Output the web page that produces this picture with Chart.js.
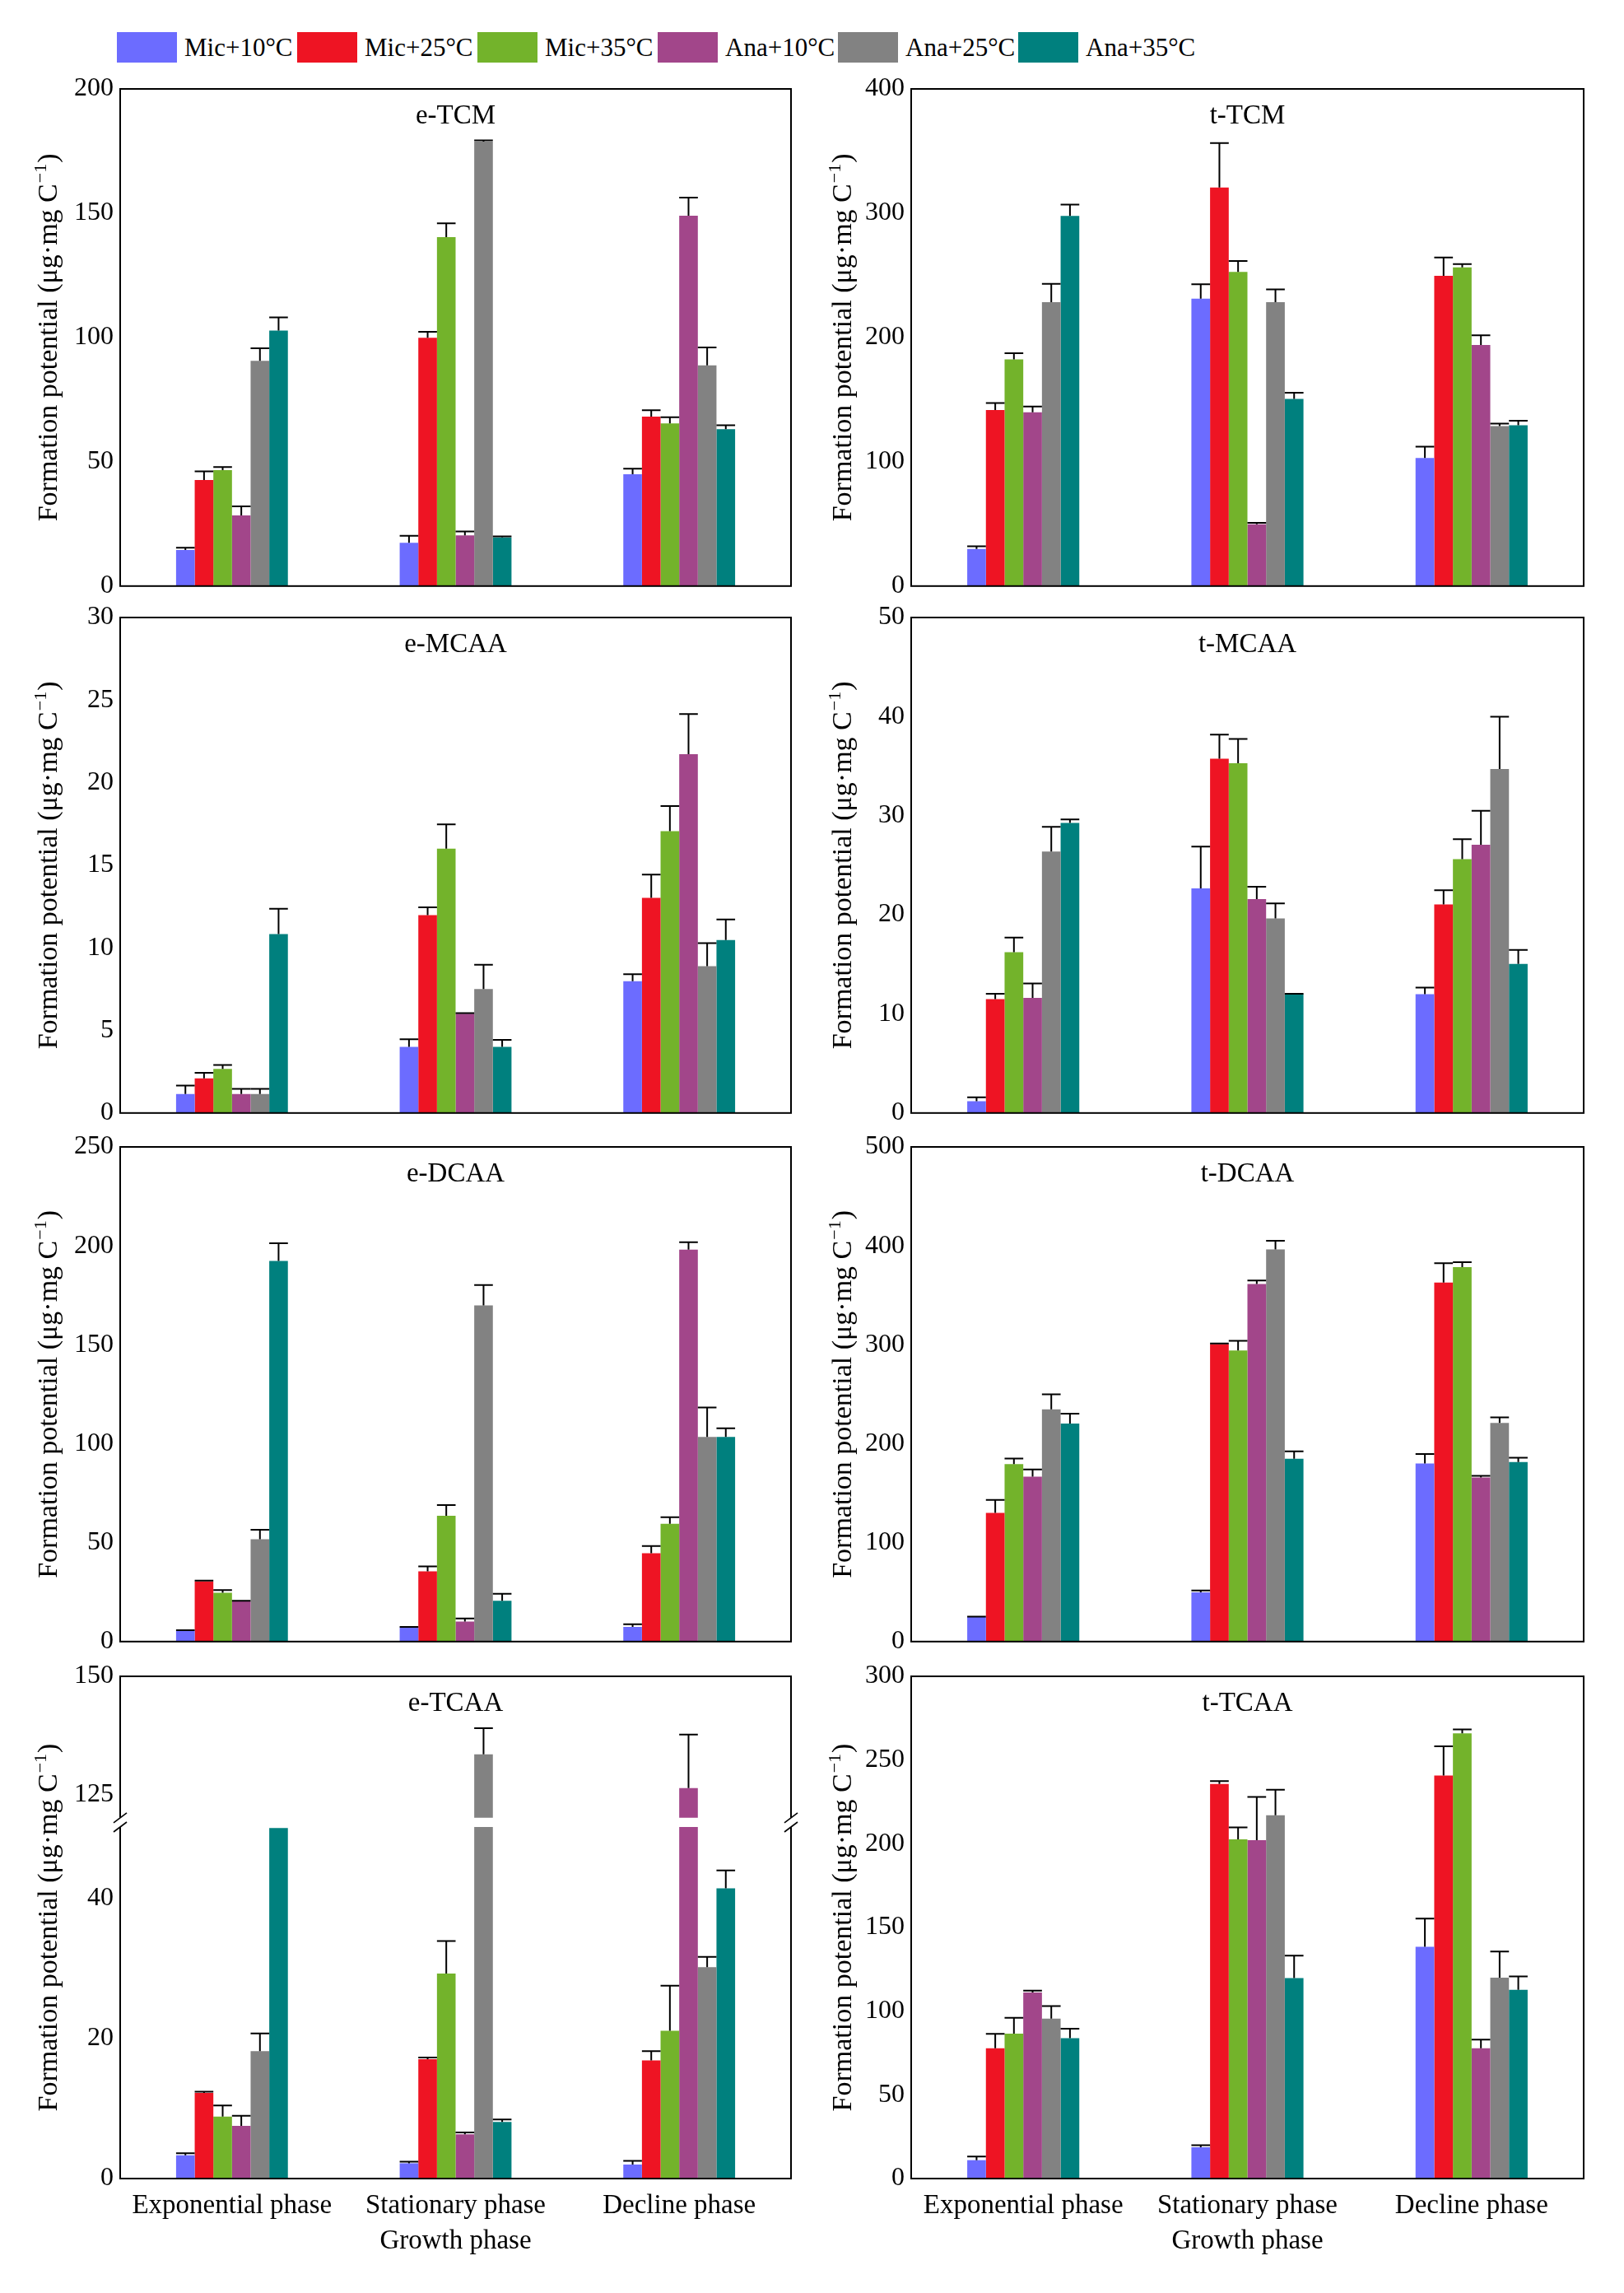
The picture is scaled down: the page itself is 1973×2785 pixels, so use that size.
<!DOCTYPE html>
<html>
<head>
<meta charset="utf-8">
<script src="https://cdn.jsdelivr.net/npm/chart.js@4.4.1/dist/chart.umd.min.js"></script>
<style>
  body { margin: 0; background: #fff; }
  #page { position: relative; width: 1973px; height: 2785px; background: #fff; font-family: 'Liberation Serif', 'Times New Roman', serif; }
  canvas { position: absolute; }
  .leg { position: absolute; top: 39px; height: 37px; display: flex; align-items: center; font-size: 31px; color: #000; white-space: nowrap; }
  .leg span.box { display: inline-block; width: 73px; height: 37px; margin-right: 9px; }
</style>
</head>
<body>
<div id="page"></div>
<script>
// categories and series
const phases = ['Exponential phase', 'Stationary phase', 'Decline phase'];
const seriesNames = ['Mic+10°C', 'Mic+25°C', 'Mic+35°C', 'Ana+10°C', 'Ana+25°C', 'Ana+35°C'];
const seriesColors = ['#6c6cff', '#ee1423', '#73b32b', '#a2468a', '#828282', '#00807e'];

// rows = series, columns = phases ; *Err = upper error bar length
const eTCM = [[14.5, 17.4, 45.0], [42.7, 99.9, 68.2], [46.6, 140.4, 65.4], [28.4, 20.4, 149.0], [90.6, 178.8, 88.8], [102.8, 19.6, 63.1]];
const eTCMErr = [[0.9, 2.8, 2.2], [3.4, 2.4, 2.5], [1.3, 5.5, 2.5], [3.7, 1.6, 7.3], [5.1, 0.5, 7.2], [5.3, 0.4, 1.6]];

const tTCM = [[29.8, 231.2, 103.0], [141.7, 320.7, 249.7], [182.3, 252.8, 256.4], [139.8, 49.7, 193.9], [228.5, 228.5, 128.7], [297.8, 150.6, 129.3]];
const tTCMErr = [[2.2, 11.6, 9.2], [5.5, 35.7, 14.7], [5.0, 8.8, 2.7], [4.7, 1.1, 7.8], [14.6, 10.2, 2.0], [9.1, 4.9, 3.8]];

const eMCAA = [[1.15, 4.0, 7.98], [2.1, 11.98, 13.02], [2.67, 16.01, 17.06], [1.15, 6.01, 21.72], [1.15, 7.51, 8.89], [10.83, 4.0, 10.47]];
const eMCAAErr = [[0.51, 0.47, 0.42], [0.33, 0.47, 1.41], [0.24, 1.46, 1.52], [0.31, 0.04, 2.43], [0.31, 1.46, 1.39], [1.54, 0.43, 1.25]];

const tMCAA = [[1.18, 22.67, 11.98], [11.5, 35.76, 21.05], [16.23, 35.29, 25.61], [11.61, 21.59, 27.06], [26.38, 19.64, 34.72], [29.28, 11.98, 15.05]];
const tMCAAErr = [[0.41, 4.22, 0.67], [0.54, 2.43, 1.42], [1.48, 2.46, 2.02], [1.45, 1.25, 3.44], [2.5, 1.51, 5.26], [0.34, 0.06, 1.41]];

const eDCAA = [[5.4, 7.1, 7.4], [30.4, 35.5, 44.6], [24.7, 63.6, 59.5], [20.3, 10.1, 198.1], [51.7, 169.9, 103.4], [192.4, 20.6, 103.4]];
const eDCAAErr = [[0.3, 0.3, 1.4], [0.4, 2.5, 3.7], [1.3, 5.4, 3.4], [0.3, 1.6, 3.7], [4.8, 10.3, 14.9], [8.9, 3.6, 4.4]];

const tDCAA = [[24.7, 49.7, 180.1], [130.1, 300.7, 362.8], [179.4, 294.3, 378.4], [166.6, 361.5, 165.9], [234.8, 396.3, 220.9], [220.3, 184.8, 181.4]];
const tDCAAErr = [[0.6, 2.0, 9.4], [13.1, 0.7, 19.6], [5.7, 9.8, 5.0], [7.4, 3.4, 1.7], [15.2, 8.8, 5.8], [10.1, 7.4, 4.4]];

const eTCAA = [[3.32, 2.18, 2.0], [12.2, 17.02, 16.85], [8.83, 29.23, 21.09], [7.51, 6.3, 126.44], [18.17, 133.56, 30.14], [50.0, 8.08, 41.38]];
const eTCAAErr = [[0.29, 0.23, 0.52], [0.18, 0.23, 1.32], [1.6, 4.64, 6.41], [1.43, 0.29, 11.26], [2.52, 5.51, 1.49], [0, 0.34, 2.57]];
const eTCAATicks = [0, 20, 40, 125, 150];

const tTCAA = [[11.0, 18.7, 138.5], [77.8, 235.7, 240.7], [86.6, 202.6, 265.9], [111.1, 202.1, 77.8], [95.5, 217.0, 120.0], [83.8, 119.8, 112.8]];
const tTCAAErr = [[2.2, 1.2, 16.8], [8.6, 1.7, 17.5], [9.4, 7.2, 2.4], [1.2, 25.9, 5.2], [7.5, 15.3, 15.6], [5.7, 13.4, 7.9]];

// y title, drawn by hand so the exponent can be a real superscript
const yTitleMain = 'Formation potential (μg·mg C';
const yTitleSup = '−1';
const yTitleEnd = ')';
const FONT = "'Liberation Serif', 'Times New Roman', serif";

// broken axis for e-TCAA: 0–50 kept, 120–150 compressed above
function tcaaMap(v) {
    return v <= 50.2 ? v : 54.73 + (v - 125) * 0.676;
}
const identity = v => v;

// layout of the 4x2 grid
const rowTop = [107.5, 750, 1393, 2035.5];
const rowBottom = [718, 1359, 2001, 2645.5];
const cols = [
    { x: 0, w: 980, axisW: 146, padR: 19, titleX: 58 },
    { x: 980, w: 993, axisW: 127, padR: 49, titleX: 43 }
];

const panels = [
    { name: 'e-TCM', vals: eTCM, errs: eTCMErr, max: 200, step: 50, row: 0, col: 0 },
    { name: 't-TCM', vals: tTCM, errs: tTCMErr, max: 400, step: 100, row: 0, col: 1 },
    { name: 'e-MCAA', vals: eMCAA, errs: eMCAAErr, max: 30, step: 5, row: 1, col: 0 },
    { name: 't-MCAA', vals: tMCAA, errs: tMCAAErr, max: 50, step: 10, row: 1, col: 1 },
    { name: 'e-DCAA', vals: eDCAA, errs: eDCAAErr, max: 250, step: 50, row: 2, col: 0 },
    { name: 't-DCAA', vals: tDCAA, errs: tDCAAErr, max: 500, step: 100, row: 2, col: 1 },
    { name: 'e-TCAA', vals: eTCAA, errs: eTCAAErr, max: 150, row: 3, col: 0, broken: true },
    { name: 't-TCAA', vals: tTCAA, errs: tTCAAErr, max: 300, step: 50, row: 3, col: 1 }
];

// error bars, frame, axis break, panel name and y title
const decorPlugin = {
    id: 'decor',
    afterDraw(chart, args, opts) {
        const ctx = chart.ctx;
        const area = chart.chartArea;
        const y = chart.scales.y;
        const map = opts.map || identity;
        ctx.save();
        ctx.strokeStyle = '#000';
        ctx.lineWidth = 2;
        chart.data.datasets.forEach((ds, i) => {
            const meta = chart.getDatasetMeta(i);
            meta.data.forEach((bar, j) => {
                const e = ds.errors[j];
                if (!e) return;
                const top = y.getPixelForValue(map(ds.raw[j] + e));
                const half = bar.width / 2;
                ctx.beginPath();
                ctx.moveTo(bar.x, bar.y);
                ctx.lineTo(bar.x, top);
                ctx.moveTo(bar.x - half, top);
                ctx.lineTo(bar.x + half, top);
                ctx.stroke();
            });
        });
        ctx.strokeRect(area.left, area.top, area.right - area.left, area.bottom - area.top);
        if (opts.broken) {
            const yLo = y.getPixelForValue(50.14);
            const yHi = y.getPixelForValue(51.46);
            ctx.fillStyle = '#fff';
            ctx.fillRect(area.left - 12, yHi, area.right - area.left + 24, yLo - yHi);
            ctx.lineWidth = 1.6;
            [area.left, area.right].forEach(x => {
                [yLo, yHi].forEach(yy => {
                    ctx.beginPath();
                    ctx.moveTo(x - 8, yy + 6);
                    ctx.lineTo(x + 8, yy - 6);
                    ctx.stroke();
                });
            });
        }
        ctx.fillStyle = '#000';
        ctx.font = '33px ' + FONT;
        ctx.textAlign = 'center';
        ctx.textBaseline = 'middle';
        ctx.fillText(opts.name, (area.left + area.right) / 2, area.top + 33);

        // rotated y title with superscript
        const big = '34px ' + FONT;
        const small = '22px ' + FONT;
        ctx.font = big;
        const w1 = ctx.measureText(yTitleMain).width;
        const w3 = ctx.measureText(yTitleEnd).width;
        ctx.font = small;
        const w2 = ctx.measureText(yTitleSup).width + 2;
        const total = w1 + w2 + w3;
        ctx.translate(opts.titleX, (area.top + area.bottom) / 2);
        ctx.rotate(-Math.PI / 2);
        ctx.textAlign = 'left';
        ctx.textBaseline = 'alphabetic';
        let x0 = -total / 2;
        ctx.font = big;
        ctx.fillText(yTitleMain, x0, 11);
        ctx.font = small;
        ctx.fillText(yTitleSup, x0 + w1 + 1, -2);
        ctx.font = big;
        ctx.fillText(yTitleEnd, x0 + w1 + w2, 11);
        ctx.restore();
    }
};

Chart.defaults.font.family = FONT;
Chart.defaults.color = '#000';

const page = document.getElementById('page');

// legend
seriesNames.forEach((name, i) => {
    const d = document.createElement('div');
    d.className = 'leg';
    d.style.left = (142 + i * 219) + 'px';
    d.innerHTML = '<span class="box" style="background:' + seriesColors[i] + '"></span>' + name;
    page.appendChild(d);
});

panels.forEach(p => {
    const c = cols[p.col];
    const last = p.row === 3;
    const padTop = 30;
    const padBottom = last ? 10 : 20;
    const xH = last ? 100 : 0;
    const top = rowTop[p.row] - padTop;
    const height = rowBottom[p.row] - rowTop[p.row] + padTop + padBottom + xH;
    const map = p.broken ? tcaaMap : identity;

    const canvas = document.createElement('canvas');
    canvas.width = c.w;
    canvas.height = Math.round(height);
    canvas.style.left = c.x + 'px';
    canvas.style.top = top + 'px';
    canvas.style.width = c.w + 'px';
    canvas.style.height = Math.round(height) + 'px';
    page.appendChild(canvas);

    const yScale = {
        min: 0,
        max: map(p.max),
        grid: { display: false, drawTicks: false },
        border: { display: false },
        ticks: { font: { size: 32 }, color: '#000', padding: 8 },
        title: { display: false },
        afterFit(s) { s.width = c.axisW; }
    };
    if (p.broken) {
        yScale.afterBuildTicks = axis => {
            axis.ticks = eTCAATicks.map(v => ({ value: tcaaMap(v) }));
        };
        yScale.ticks.callback = (value, index) => eTCAATicks[index];
    } else {
        yScale.ticks.stepSize = p.step;
    }

    new Chart(canvas, {
        type: 'bar',
        data: {
            labels: phases,
            datasets: seriesNames.map((s, i) => ({
                label: s,
                data: p.vals[i].map(map),
                raw: p.vals[i],
                errors: p.errs[i],
                backgroundColor: seriesColors[i],
                borderWidth: 0,
                categoryPercentage: 0.5,
                barPercentage: 1.0
            }))
        },
        options: {
            responsive: false,
            animation: false,
            devicePixelRatio: 1,
            layout: { padding: { top: padTop, bottom: padBottom, left: 0, right: c.padR } },
            plugins: {
                legend: { display: false },
                tooltip: { enabled: false },
                decor: { name: p.name, broken: !!p.broken, map: map, titleX: c.titleX }
            },
            scales: {
                x: {
                    grid: { display: false, drawTicks: false },
                    border: { display: false },
                    ticks: { display: last, font: { size: 33 }, color: '#000', padding: 14, maxRotation: 0, autoSkip: false },
                    title: { display: last, text: 'Growth phase', font: { size: 33 }, color: '#000', padding: { top: 0, bottom: 4 } },
                    afterFit(s) { s.height = xH; }
                },
                y: yScale
            }
        },
        plugins: [decorPlugin]
    });
});
</script>
</body>
</html>
